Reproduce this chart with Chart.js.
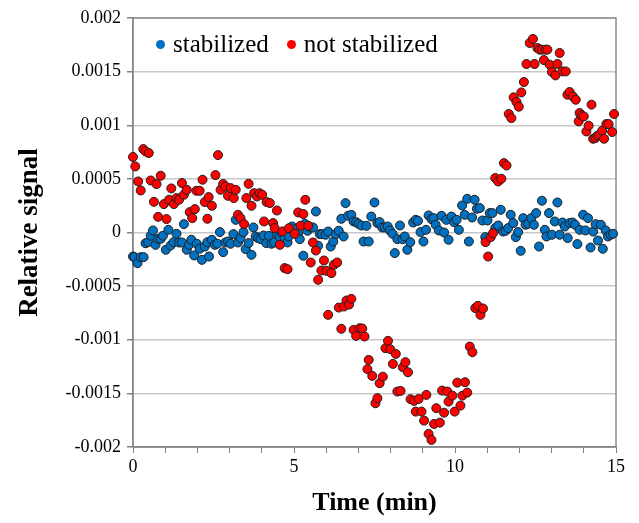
<!DOCTYPE html>
<html>
<head>
<meta charset="utf-8">
<script src="https://cdn.jsdelivr.net/npm/chart.js@4.4.1/dist/chart.umd.min.js"></script>
<style>
  body { margin: 0; background: #fff; }
  #wrap { width: 639px; height: 523px; position: relative; }
  #legend { position: absolute; left: 156px; top: 29px; font-family: "Liberation Serif", "Times New Roman", serif;
            font-size: 25px; line-height: 30px; color: #000; white-space: nowrap; }
  #legend span.dot { display: inline-block; width: 9px; height: 9px; border-radius: 50%; margin-right: 8px; vertical-align: 3px; }
  #legend span.item { margin-right: 18px; }
</style>
</head>
<body>
<div id="wrap">
  <canvas id="myChart" width="639" height="523"></canvas>
  <div id="legend"></div>
</div>
<script>
const seriesNames = ["stabilized", "not stabilized"];
const seriesColors = ['#0070c0', '#ff0000'];

const stabTime = [0.00,0.05,0.14,0.24,0.33,0.39,0.47,0.55,0.62,0.70,0.78,0.86,0.93,1.02,1.10,1.17,1.26,1.35,1.43,1.52,1.58,1.67,1.74,1.81,1.90,1.98,2.07,2.14,2.23,2.31,2.36,2.45,2.54,2.62,2.70,2.80,2.87,2.95,3.03,3.12,3.19,3.26,3.34,3.43,3.50,3.59,3.68,3.74,3.81,3.88,3.96,4.05,4.14,4.22,4.30,4.38,4.47,4.55,4.63,4.71,4.80,4.84,4.94,5.04,5.13,5.18,5.29,5.34,5.42,5.52,5.59,5.68,5.75,5.80,5.87,5.98,6.06,6.14,6.22,6.30,6.39,6.47,6.54,6.60,6.68,6.78,6.85,6.93,7.00,7.09,7.16,7.25,7.32,7.40,7.50,7.59,7.66,7.74,7.82,7.91,7.98,8.06,8.13,8.21,8.29,8.37,8.44,8.52,8.61,8.70,8.78,8.85,8.93,9.02,9.10,9.18,9.27,9.34,9.40,9.50,9.58,9.66,9.73,9.80,9.89,9.97,10.05,10.12,10.22,10.30,10.38,10.43,10.53,10.61,10.68,10.77,10.85,10.94,11.01,11.08,11.16,11.25,11.34,11.42,11.49,11.57,11.65,11.73,11.81,11.89,11.96,12.04,12.12,12.19,12.27,12.37,12.45,12.52,12.61,12.70,12.79,12.84,12.92,13.01,13.10,13.18,13.25,13.34,13.41,13.50,13.56,13.65,13.73,13.80,13.87,13.98,14.05,14.13,14.21,14.29,14.37,14.44,14.53,14.59,14.68,14.75,14.83,14.91];
const stabSignal = [-0.000224,-0.000230,-0.000286,-0.000230,-0.000230,-0.000100,-0.000090,-0.000030,0.000019,-0.000115,-0.000059,-0.000059,-0.000030,-0.000161,0.000025,-0.000121,-0.000090,-0.000012,-0.000093,-0.000093,0.000078,-0.000161,-0.000115,-0.000068,-0.000214,-0.000105,-0.000152,-0.000255,-0.000131,-0.000090,-0.000224,-0.000068,-0.000115,-0.000105,0.000004,-0.000183,-0.000093,-0.000084,-0.000105,-0.000015,0.000118,-0.000093,-0.000052,0.000004,-0.000155,-0.000099,-0.000208,0.000047,-0.000037,-0.000052,-0.000062,-0.000028,-0.000099,-0.000031,-0.000105,-0.000093,-0.000012,-0.000037,-0.000006,-0.000047,-0.000093,-0.000037,0.000056,0.000032,-0.000006,-0.000062,-0.000217,0.000081,0.000016,0.000047,0.000047,0.000196,-0.000124,-0.000015,-0.000015,-0.000021,0.000009,-0.000131,-0.000084,-0.000015,0.000016,0.000128,-0.000037,0.000274,0.000156,0.000165,0.000103,0.000097,0.000081,0.000065,-0.000084,0.000062,-0.000084,0.000149,0.000280,0.000088,0.000097,0.000047,0.000047,0.000056,0.000019,-0.000012,-0.000192,-0.000062,0.000065,-0.000062,-0.000037,-0.000161,-0.000090,0.000093,0.000118,0.000109,0.000004,-0.000084,0.000025,0.000159,0.000125,0.000134,0.000072,0.000019,0.000156,0.000000,0.000118,-0.000068,0.000149,0.000097,0.000118,0.000025,0.000252,0.000165,0.000314,-0.000084,0.000140,0.000305,0.000221,0.000228,0.000112,-0.000043,0.000112,0.000181,0.000181,0.000041,0.000065,0.000212,0.000009,0.000016,0.000041,0.000165,0.000088,-0.000043,0.000004,-0.000171,0.000134,0.000072,0.000081,0.000134,0.000072,0.000181,-0.000131,0.000296,0.000025,-0.000037,0.000181,-0.000021,0.000103,0.000280,-0.000021,0.000093,0.000056,-0.000052,0.000088,0.000093,0.000072,-0.000108,0.000025,0.000165,0.000019,0.000134,-0.000140,0.000009,0.000078,-0.000075,0.000072,-0.000152,0.000019,-0.000037,-0.000021,-0.000012];

const notStabTime = [0.00,0.07,0.16,0.24,0.32,0.39,0.49,0.55,0.65,0.73,0.78,0.86,0.96,1.04,1.12,1.19,1.27,1.35,1.43,1.52,1.58,1.67,1.76,1.84,1.92,1.97,2.07,2.16,2.23,2.31,2.35,2.45,2.56,2.64,2.72,2.80,2.87,2.95,3.03,3.13,3.19,3.26,3.34,3.45,3.52,3.59,3.68,3.76,3.85,3.93,4.01,4.07,4.15,4.25,4.35,4.40,4.47,4.56,4.64,4.71,4.80,4.84,5.02,5.13,5.20,5.29,5.35,5.44,5.52,5.59,5.68,5.75,5.85,5.93,6.01,6.06,6.16,6.24,6.34,6.39,6.47,6.55,6.63,6.71,6.78,6.85,6.93,7.04,7.12,7.19,7.28,7.32,7.43,7.53,7.59,7.66,7.76,7.84,7.92,7.99,8.07,8.16,8.21,8.31,8.38,8.46,8.54,8.62,8.73,8.78,8.87,8.96,9.04,9.11,9.18,9.27,9.35,9.42,9.53,9.60,9.66,9.76,9.80,9.92,9.99,10.07,10.17,10.23,10.31,10.38,10.46,10.54,10.63,10.71,10.79,10.87,10.95,11.03,11.11,11.18,11.25,11.34,11.44,11.52,11.60,11.67,11.75,11.82,11.91,11.98,12.06,12.14,12.22,12.32,12.42,12.47,12.56,12.63,12.70,12.76,12.81,12.87,12.94,13.01,13.12,13.18,13.25,13.34,13.44,13.49,13.56,13.66,13.75,13.84,13.87,13.93,14.00,14.08,14.15,14.24,14.29,14.36,14.42,14.49,14.57,14.63,14.70,14.77,14.88,14.94];
const notStabSignal = [0.000704,0.000616,0.000476,0.000392,0.000778,0.000756,0.000741,0.000485,0.000286,0.000452,0.000146,0.000529,0.000265,0.000125,0.000305,0.000411,0.000265,0.000321,0.000305,0.000461,0.000352,0.000398,0.000190,0.000134,0.000218,0.000389,0.000389,0.000492,0.000284,0.000128,0.000330,0.000249,0.000535,0.000722,0.000398,0.000452,0.000429,0.000342,0.000414,0.000321,0.000398,0.000165,0.000134,0.000078,0.000321,0.000454,0.000249,0.000367,0.000336,0.000367,0.000352,0.000103,0.000284,0.000274,0.000088,0.000041,0.000205,-0.000115,0.000010,-0.000332,-0.000342,0.000040,-0.000012,0.000187,0.000063,0.000172,0.000305,0.000063,-0.000280,-0.000093,-0.000168,-0.000441,-0.000355,-0.000261,-0.000357,-0.000768,-0.000379,-0.000301,-0.000280,-0.000700,-0.000898,-0.000690,-0.000634,-0.000672,-0.000619,-0.000908,-0.000964,-0.000892,-0.000896,-0.000970,-0.001274,-0.001188,-0.001337,-0.001592,-0.001545,-0.001405,-0.001344,-0.001079,-0.001010,-0.001088,-0.001225,-0.001132,-0.001483,-0.001477,-0.001256,-0.001209,-0.001303,-0.001554,-0.001570,-0.001670,-0.001552,-0.001670,-0.001754,-0.001514,-0.001878,-0.001934,-0.001785,-0.001638,-0.001773,-0.001474,-0.001680,-0.001483,-0.001577,-0.001521,-0.001670,-0.001400,-0.001614,-0.001521,-0.001396,-0.001493,-0.001064,-0.001116,-0.000705,-0.000684,-0.000768,-0.000709,-0.000090,-0.000224,-0.000043,-0.000006,0.000508,0.000476,0.000501,0.000647,0.000625,0.001105,0.001067,0.001260,0.001217,0.001173,0.001306,0.001403,0.001571,0.001767,0.001805,0.001571,0.001720,0.001705,0.001705,0.001608,0.001705,0.001705,0.001565,0.001497,0.001465,0.001571,0.001674,0.001502,0.001502,0.001285,0.001310,0.001269,0.001238,0.001036,0.001114,0.001092,0.001082,0.000942,0.000996,0.001192,0.000874,0.000881,0.000902,0.000912,0.000949,0.000874,0.001011,0.001011,0.000937,0.001105];

const xTickLabels = [0, 5, 10, 15];
const yTickValues = [-0.002, -0.0015, -0.001, -0.0005, 0, 0.0005, 0.001, 0.0015, 0.002];

const serif = '"Liberation Serif", "Times New Roman", serif';

function toPoints(xs, ys) {
  return xs.map((x, i) => ({ x: x, y: ys[i] }));
}

// legend as html text, sitting inside the plot area
const legend = document.getElementById('legend');
seriesNames.forEach((name, i) => {
  const item = document.createElement('span');
  item.className = 'item';
  const dot = document.createElement('span');
  dot.className = 'dot';
  dot.style.background = seriesColors[i];
  item.appendChild(dot);
  item.appendChild(document.createTextNode(name));
  legend.appendChild(item);
});

// frame around the plot area (drawn under the points)
const frame = {
  id: 'frame',
  beforeDatasetsDraw(chart) {
    const a = chart.chartArea;
    const c = chart.ctx;
    c.save();
    c.strokeStyle = '#8c8c8c';
    c.lineWidth = 1.5;
    c.strokeRect(a.left, a.top, a.right - a.left, a.bottom - a.top);
    c.restore();
  }
};

var ctx = document.getElementById("myChart").getContext('2d');
var myChart = new Chart(ctx, {
  type: 'scatter',
  data: {
    datasets: [{
      label: seriesNames[0],
      data: toPoints(stabTime, stabSignal),
      backgroundColor: seriesColors[0],
      borderColor: '#1f1f1f',
      borderWidth: 1,
      pointRadius: 4.5,
      clip: false,
      order: 1
    }, {
      label: seriesNames[1],
      data: toPoints(notStabTime, notStabSignal),
      backgroundColor: seriesColors[1],
      borderColor: '#1f1f1f',
      borderWidth: 1,
      pointRadius: 4.5,
      clip: false,
      order: 0
    }]
  },
  options: {
    responsive: false,
    animation: false,
    layout: { padding: { left: 0, top: 18, right: 23, bottom: 0 } },
    plugins: {
      tooltip: { enabled: false },
      legend: { display: false }
    },
    scales: {
      x: {
        type: 'linear',
        min: 0,
        max: 15,
        afterFit(scale) { scale.height = 76; },
        ticks: {
          stepSize: 1,
          autoSkip: false,
          maxRotation: 0,
          color: '#000',
          font: { family: serif, size: 18 },
          callback: v => xTickLabels.includes(v) ? String(v) : ''
        },
        grid: { drawOnChartArea: false, drawTicks: true, tickLength: 6, color: '#7f7f7f' },
        border: { color: '#7f7f7f', width: 1.5 },
        title: {
          display: true,
          text: 'Time (min)',
          color: '#000',
          font: { family: serif, size: 26, weight: 'bold', lineHeight: 1.55 },
          padding: { top: 0, bottom: 0 }
        }
      },
      y: {
        type: 'linear',
        min: -0.002,
        max: 0.002,
        afterFit(scale) { scale.width = 133; },
        afterBuildTicks(scale) { scale.ticks = yTickValues.map(v => ({ value: v })); },
        ticks: {
          color: '#000',
          font: { family: serif, size: 18 },
          padding: 6,
          callback: v => String(parseFloat(Number(v).toFixed(4)))
        },
        grid: { color: '#c8c8c8', lineWidth: 1.5, tickLength: 6, tickColor: '#7f7f7f' },
        border: { color: '#7f7f7f', width: 1.5 },
        title: {
          display: true,
          text: 'Relative signal',
          color: '#000',
          font: { family: serif, size: 27, weight: 'bold' },
          padding: { top: 14, bottom: 0 }
        }
      }
    }
  },
  plugins: [frame]
});
</script>
</body>
</html>
